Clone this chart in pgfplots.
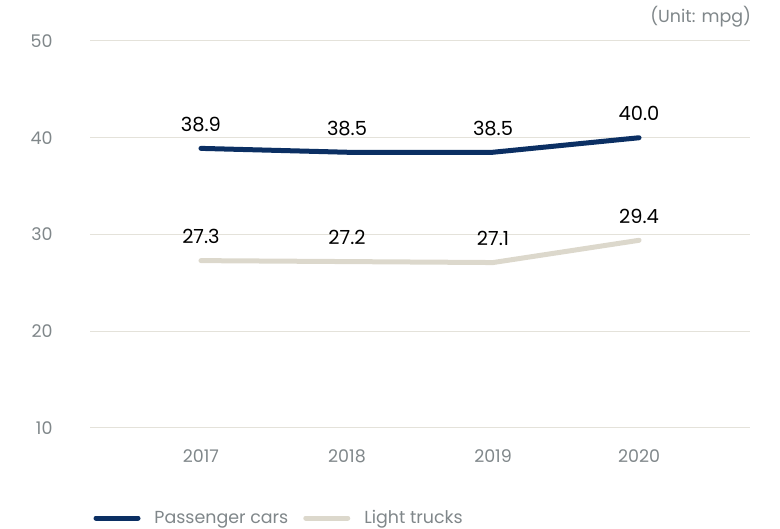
\documentclass[border=0pt]{standalone}
\usepackage{pgfplots}
\pgfplotsset{compat=1.18}
\usepackage{fontspec}
\setmainfont{Poppins}
\definecolor{navy}{HTML}{0B2F63}
\definecolor{beige}{HTML}{DCD8CC}
\definecolor{gridc}{HTML}{E4E2DA}
\definecolor{tickc}{HTML}{80878A}
\begin{document}
\begin{tikzpicture}[x=1bp,y=1bp]
\path[use as bounding box] (0,0) rectangle (780,529);
\begin{axis}[
  at={(90bp,101bp)}, anchor=south west,
  scale only axis, width=660bp, height=387bp,
  xmin=-0.76, xmax=3.76, ymin=10, ymax=50,
  clip=false,
  axis line style={draw=none}, tick style={draw=none},
  ymajorgrids, major grid style={gridc, line width=1bp},
  xtick={0,1,2,3}, xticklabels={2017,2018,2019,2020},
  ytick={10,20,30,40,50},
  tick label style={font=\fontsize{17.5}{20}\selectfont, text=tickc},
  /pgf/number format/assume math mode=true,
  yticklabel style={xshift=-34bp},
  xticklabel style={yshift=-18bp},
  nodes near coords,
  every node near coord/.append style={font=\fontsize{19.5}{22}\selectfont, text=black, anchor=south, yshift=11bp,
    /pgf/number format/fixed, /pgf/number format/precision=1, /pgf/number format/fixed zerofill},
  legend style={at={(axis description cs:0.005,-0.2326)}, anchor=west, draw=none, fill=none,
    font=\fontsize{17.5}{20}\selectfont, text=tickc, inner sep=0pt,
    /tikz/every odd column/.append style={column sep=12bp},
    /tikz/every even column/.append style={column sep=13bp}},
  legend columns=2,
  legend image code/.code={\draw[#1, line width=5bp, line cap=round] (2.5bp,0bp) -- (44.5bp,0bp);},
]
\addplot[navy, line width=5bp, line cap=round, line join=round] coordinates {(0,38.9)(1,38.5)(2,38.5)(3,40.0)};
\addlegendentry{Passenger cars}
\addplot[beige, line width=5bp, line cap=round, line join=round] coordinates {(0,27.3)(1,27.2)(2,27.1)(3,29.4)};
\addlegendentry{Light trucks}
\node[anchor=east, inner sep=0pt, font=\fontsize{17.5}{20}\selectfont, text=tickc] at (axis description cs:1.002,1.062) {(Unit: mpg)};
\end{axis}
\end{tikzpicture}
\end{document}
